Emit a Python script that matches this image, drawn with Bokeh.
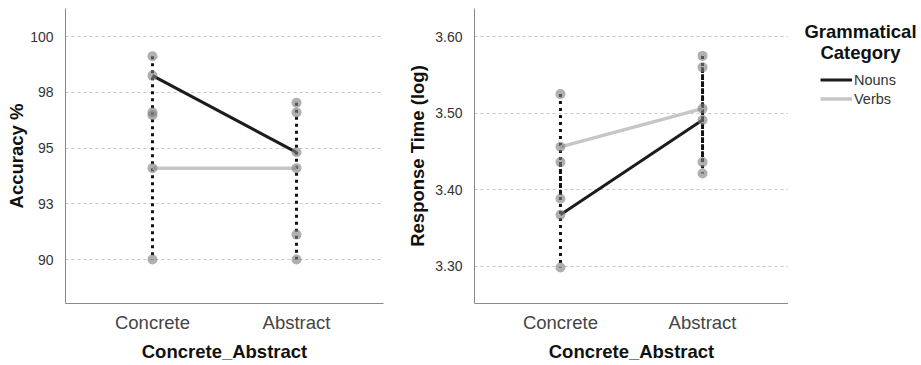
from bokeh.plotting import figure
from bokeh.layouts import row
from bokeh.models import FactorRange, Range1d, FixedTicker, Legend, LegendItem, Label
from bokeh.embed import file_html
from bokeh.resources import INLINE

# ---------------- data ----------------
categories = ["Concrete", "Abstract"]
series_names = ["Nouns", "Verbs"]
legend_title = "Grammatical\nCategory"

# Accuracy %  (mean, lower, upper per category)
acc_nouns_mean = [98.25, 94.81]
acc_nouns_low = [96.6, 91.12]
acc_nouns_high = [99.12, 97.03]
acc_verbs_mean = [94.1, 94.1]
acc_verbs_low = [90.0, 90.0]
acc_verbs_high = [96.47, 96.6]
acc_ticks = [90, 92.5, 95, 97.5, 100]
acc_tick_labels = ["90", "93", "95", "98", "100"]

# Response time (log)
rt_nouns_mean = [3.367, 3.491]
rt_nouns_low = [3.298, 3.421]
rt_nouns_high = [3.436, 3.56]
rt_verbs_mean = [3.456, 3.506]
rt_verbs_low = [3.388, 3.436]
rt_verbs_high = [3.525, 3.575]
rt_ticks = [3.30, 3.40, 3.50, 3.60]
rt_tick_labels = ["3.30", "3.40", "3.50", "3.60"]

FONT = "Liberation Sans"
NOUN_COLOR = "#1c1c1c"
VERB_COLOR = "#c6c6c6"
H = 365
TOP, BOTTOM = 8, 62


def make_panel(width, ylo, yhi, ticks, tick_labels, ylabel,
               n_mean, n_low, n_high, v_mean, v_low, v_high,
               border_left, border_right, pad, ylabel_standoff, merge_ranges):
    p = figure(width=width, height=H, output_backend="svg", toolbar_location=None,
               x_range=FactorRange(*categories, range_padding=pad),
               y_range=Range1d(ylo, yhi),
               min_border_left=border_left, min_border_right=border_right,
               min_border_top=TOP, min_border_bottom=BOTTOM)
    p.outline_line_color = None
    p.xgrid.grid_line_color = None
    p.ygrid.grid_line_color = "#c8c8c8"
    p.ygrid.grid_line_dash = "3 3"
    p.ygrid.grid_line_width = 1
    p.yaxis.ticker = FixedTicker(ticks=ticks)
    p.yaxis.major_label_overrides = {t: l for t, l in zip(ticks, tick_labels)}
    for ax in (p.xaxis[0], p.yaxis[0]):
        ax.axis_line_color = "#8a8a8a"
        ax.major_tick_line_color = None
        ax.minor_tick_line_color = None
        ax.major_label_text_font = FONT
        ax.axis_label_text_font = FONT
        ax.axis_label_text_font_style = "bold"
        ax.axis_label_text_font_size = "18.5px"
        ax.axis_label_text_color = "#111111"
    p.yaxis.major_label_text_font_size = "14px"
    p.yaxis.major_label_text_color = "#333333"
    p.yaxis.major_label_standoff = 6
    p.yaxis.axis_label = ylabel
    p.yaxis.axis_label_standoff = ylabel_standoff
    p.xaxis.major_label_text_font_size = "18.5px"
    p.xaxis.major_label_text_color = "#444444"
    p.xaxis.major_label_standoff = 2
    p.xaxis.axis_label = "Concrete_Abstract"
    p.xaxis.axis_label_standoff = 5

    # interval lines (dotted)
    dot = dict(line_color="#111111", line_width=3, line_dash="3 4")
    if merge_ranges:
        lows = [min(a, b) for a, b in zip(n_low, v_low)]
        highs = [max(a, b) for a, b in zip(n_high, v_high)]
        p.segment(x0=categories, x1=categories, y0=highs, y1=lows, **dot)
    else:
        p.segment(x0=categories, x1=categories, y0=n_high, y1=n_low, **dot)
        p.segment(x0=categories, x1=categories, y0=v_high, y1=v_low, **dot)
    # mean lines
    p.line(x=categories, y=n_mean, line_color=NOUN_COLOR, line_width=3)
    p.line(x=categories, y=v_mean, line_color=VERB_COLOR, line_width=3.5)
    # points (means and interval ends)
    xs = categories * 6
    ys = list(n_mean) + list(n_low) + list(n_high) + list(v_mean) + list(v_low) + list(v_high)
    p.scatter(x=xs, y=ys, size=10, fill_color="#7f7f7f", fill_alpha=0.62, line_color=None)
    return p


p1 = make_panel(392, 88.03, 101.26, acc_ticks, acc_tick_labels, "Accuracy %",
                acc_nouns_mean, acc_nouns_low, acc_nouns_high,
                acc_verbs_mean, acc_verbs_low, acc_verbs_high,
                65, 9, 0.104, 0, True)
p2 = make_panel(396, 3.251, 3.637, rt_ticks, rt_tick_labels, "Response Time (log)",
                rt_nouns_mean, rt_nouns_low, rt_nouns_high,
                rt_verbs_mean, rt_verbs_low, rt_verbs_high,
                82, 0, 0.105, 4, False)

# legend panel (hidden proxy renderers carry the series styles)
p3 = figure(width=133, height=H, output_backend="svg", toolbar_location=None,
            x_range=FactorRange(*categories), y_range=Range1d(3.251, 3.637),
            x_axis_location=None, y_axis_location=None,
            min_border_left=0, min_border_right=0, min_border_top=TOP, min_border_bottom=BOTTOM)
p3.outline_line_color = None
p3.grid.visible = False
ln = p3.line(x=categories, y=rt_nouns_mean, line_color=NOUN_COLOR, line_width=3, visible=False)
lv = p3.line(x=categories, y=rt_verbs_mean, line_color=VERB_COLOR, line_width=3.5, visible=False)
legend = Legend(items=[LegendItem(label=series_names[0], renderers=[ln]),
                       LegendItem(label=series_names[1], renderers=[lv])],
                location=(32, 195), orientation="vertical",
                padding=0, margin=0, spacing=0,
                glyph_width=32, glyph_height=19, label_height=19, label_standoff=2,
                border_line_color=None, background_fill_alpha=0,
                inactive_fill_alpha=0,
                label_text_font=FONT, label_text_font_size="14.5px", label_text_color="#333333")
p3.add_layout(legend, "center")
title = Label(x=72, y=261.5, x_units="screen", y_units="screen",
              text=legend_title, text_align="center", text_baseline="middle",
              text_font=FONT, text_font_style="bold", text_font_size="18.5px",
              text_color="#111111", text_line_height=1.0)
p3.add_layout(title)

layout = row(p1, p2, p3)
open("out.html", "w").write(file_html(layout, INLINE))
